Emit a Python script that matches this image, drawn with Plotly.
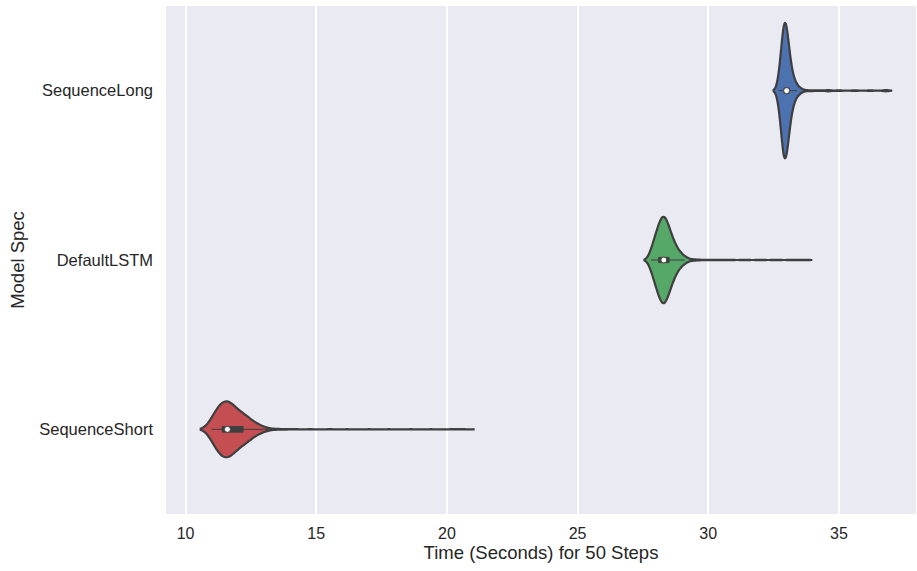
import numpy as np
import plotly.graph_objects as go

categories = ["SequenceLong", "DefaultLSTM", "SequenceShort"]

long_values = [32.7, 32.8, 32.9, 33.0, 33.1, 33.2, 33.3, 33.4, 33.5, 33.6,
               33.8, 34.0, 34.3, 34.6, 35.0, 35.6, 36.2, 36.8]
long_counts = [14, 52, 110, 92, 48, 24, 13, 7, 4, 2,
               1, 1, 1, 2, 1, 1, 1, 2]

lstm_values = [27.8, 27.9, 28.0, 28.1, 28.2, 28.3, 28.4, 28.5, 28.6, 28.7,
               28.8, 28.9, 29.0, 29.1, 29.2, 29.4, 29.6, 29.9, 30.3, 30.8, 31.4,
               32.0, 32.6, 33.2, 33.7]
lstm_counts = [22, 38, 56, 75, 92, 100, 88, 70, 52, 38,
               26, 18, 12, 8, 5, 3, 2, 1, 1, 1, 1,
               1, 1, 1, 1]

short_values = [11.0, 11.2, 11.4, 11.6, 11.8, 12.0, 12.2, 12.4, 12.6, 12.8,
                13.0, 13.3, 13.7, 14.2, 14.8, 15.5, 16.2, 17.0, 17.8, 18.6, 19.4,
                20.2, 20.6]
short_counts = [40, 72, 95, 100, 85, 60, 55, 40, 25, 15,
                8, 3, 2, 1, 1, 1, 1, 1, 1, 1, 1,
                1, 1]

x_ticks = [10, 15, 20, 25, 30, 35]

series = [np.repeat(long_values, long_counts),
          np.repeat(lstm_values, lstm_counts),
          np.repeat(short_values, short_counts)]
colors = ["#4C72B0", "#55A868", "#C44E52"]
bandwidths = [0.1, 0.12, 0.21]
widths = [0.80, 0.51, 0.33]
box_widths = [0.04, 0.06, 0.10]
outline = "#3f3f3f"

fig = go.Figure()
for cat, vals, col, bw, w, bwid in zip(categories, series, colors, bandwidths, widths, box_widths):
    fig.add_trace(go.Violin(
        x=vals, y=[cat] * len(vals), orientation="h",
        fillcolor=col, line=dict(color=outline, width=2.2), opacity=1,
        bandwidth=bw, spanmode="soft", scalemode="width", width=w,
        points=False, box=dict(visible=True, width=bwid, fillcolor=outline,
                               line=dict(color=outline, width=1)),
        meanline=dict(visible=False), showlegend=False, hoverinfo="skip",
    ))
    fig.add_trace(go.Scatter(
        x=[float(np.median(vals))], y=[cat], mode="markers",
        marker=dict(color="white", size=6, line=dict(color=outline, width=1)),
        showlegend=False, hoverinfo="skip",
    ))

fig.update_layout(
    width=917, height=571,
    margin=dict(l=166, r=1, t=6, b=57),
    plot_bgcolor="#EAEAF2", paper_bgcolor="white",
    violinmode="overlay",
    font=dict(family="Liberation Sans, Arial, sans-serif", color="#262626"),
)
fig.update_xaxes(
    range=[9.25, 37.95], tickvals=x_ticks, ticktext=[str(t) for t in x_ticks],
    showgrid=True, gridcolor="white", gridwidth=1.5, zeroline=False, showline=False,
    ticks="", ticklabelstandoff=8, tickfont=dict(size=16),
    title=dict(text="Time (Seconds) for 50 Steps", font=dict(size=18.5), standoff=5),
)
fig.update_yaxes(
    type="category", categoryorder="array", categoryarray=categories[::-1],
    range=[-0.5, 2.5], showgrid=False, zeroline=False, showline=False,
    ticks="", ticklabelstandoff=12, tickfont=dict(size=16.5),
    title=dict(text="Model Spec", font=dict(size=18.5), standoff=9),
)

fig.write_html("out.html")
